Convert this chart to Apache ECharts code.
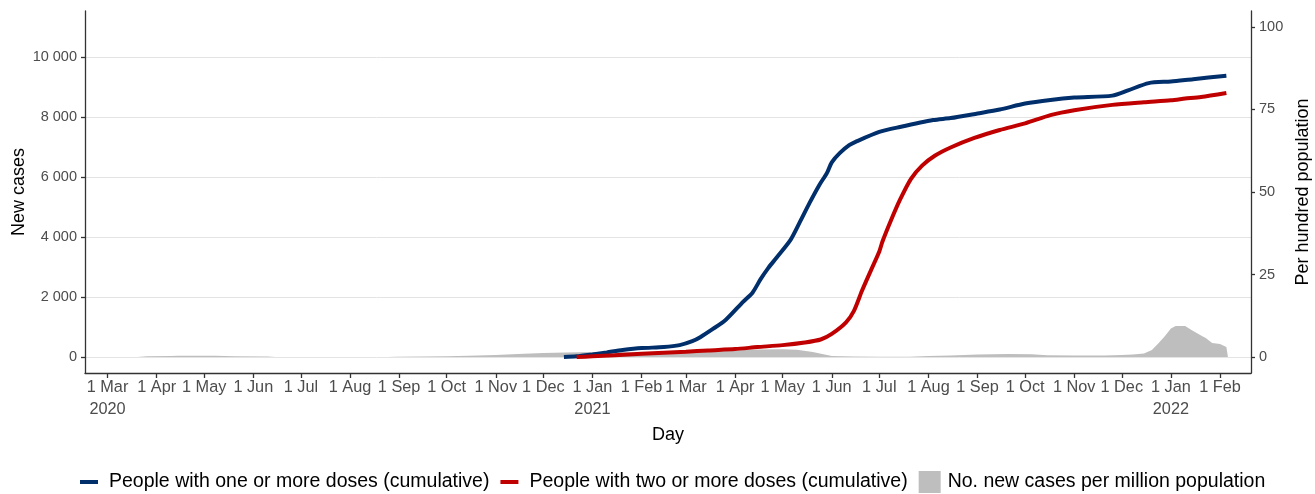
<!DOCTYPE html>
<html>
<head>
<meta charset="utf-8">
<script src="https://cdn.jsdelivr.net/npm/echarts@6/dist/echarts.min.js"></script>
<style>
  html, body { margin: 0; padding: 0; background: #fff; }
  #chart { width: 1315px; height: 494px; }
</style>
</head>
<body>
<div id="chart"></div>
<script>
// dates on the x axis where month ticks sit
const monthTicks = [
  '2020-03-01', '2020-04-01', '2020-05-01', '2020-06-01', '2020-07-01', '2020-08-01',
  '2020-09-01', '2020-10-01', '2020-11-01', '2020-12-01', '2021-01-01', '2021-02-01',
  '2021-03-01', '2021-04-01', '2021-05-01', '2021-06-01', '2021-07-01', '2021-08-01',
  '2021-09-01', '2021-10-01', '2021-11-01', '2021-12-01', '2022-01-01', '2022-02-01',
]
const monthNames = ['Jan', 'Feb', 'Mar', 'Apr', 'May', 'Jun', 'Jul', 'Aug', 'Sep', 'Oct', 'Nov', 'Dec']
const leftTicks = [0, 2000, 4000, 6000, 8000, 10000]
const rightTicks = [0, 25, 50, 75, 100]

// people with one or more doses, per hundred
const oneDoseDates = [
  '2020-12-14', '2020-12-22', '2021-01-01', '2021-01-10', '2021-01-20', '2021-02-01',
  '2021-02-15', '2021-02-25', '2021-03-05', '2021-03-10', '2021-03-18', '2021-03-26',
  '2021-04-06', '2021-04-12', '2021-04-17', '2021-04-22', '2021-04-27', '2021-05-06',
  '2021-05-12', '2021-05-18', '2021-05-24', '2021-05-29', '2021-06-01', '2021-06-06',
  '2021-06-12', '2021-06-16', '2021-07-01', '2021-07-14', '2021-08-04', '2021-08-15',
  '2021-09-01', '2021-09-15', '2021-10-01', '2021-10-17', '2021-11-01', '2021-11-25',
  '2021-12-05', '2021-12-18', '2022-01-01', '2022-01-15', '2022-02-05',
]
const oneDoseValues = [
  0, 0.2, 0.8, 1.4, 2.1, 2.7,
  3.0, 3.6, 4.8, 6.0, 8.5, 11.2,
  16.7, 19.5, 23.5, 27, 30, 35.5,
  41, 46.7, 52, 55.8, 59, 61.8,
  64.2, 65.2, 68.2, 69.7, 71.8, 72.4,
  73.8, 75, 76.8, 77.9, 78.6, 79.2,
  80.8, 83, 83.5, 84.2, 85.2,
]

// people with two or more doses, per hundred
const twoDoseDates = [
  '2020-12-22', '2021-01-01', '2021-01-15', '2021-02-01', '2021-02-15', '2021-03-01',
  '2021-03-15', '2021-04-01', '2021-04-15', '2021-05-01', '2021-05-15', '2021-05-25',
  '2021-06-01', '2021-06-10', '2021-06-15', '2021-06-20', '2021-06-25', '2021-07-01',
  '2021-07-03', '2021-07-08', '2021-07-14', '2021-07-21', '2021-07-28', '2021-08-05',
  '2021-08-15', '2021-08-30', '2021-09-15', '2021-10-01', '2021-10-17', '2021-11-01',
  '2021-11-25', '2021-12-15', '2022-01-01', '2022-01-10', '2022-01-20', '2022-02-05',
]
const twoDoseValues = [
  0, 0.2, 0.5, 1.0, 1.3, 1.6,
  2.0, 2.4, 3.0, 3.6, 4.4, 5.3,
  7, 10.5, 14, 20, 25.5, 32,
  35, 41, 47.6, 54, 58, 61,
  63.5, 66.4, 68.8, 70.8, 73.3, 74.8,
  76.4, 77.2, 77.8, 78.3, 78.8, 80,
]

// new cases per million population
const caseDates = [
  '2020-03-20', '2020-03-26', '2020-04-10', '2020-04-15', '2020-05-01', '2020-05-08',
  '2020-05-20', '2020-06-10', '2020-06-15', '2020-08-25', '2020-08-30', '2020-09-15',
  '2020-10-01', '2020-10-15', '2020-11-01', '2020-11-15', '2020-12-01', '2020-12-15',
  '2021-01-01', '2021-01-15', '2021-02-01', '2021-02-15', '2021-03-01', '2021-03-15',
  '2021-04-01', '2021-04-15', '2021-05-01', '2021-05-10', '2021-05-20', '2021-06-01',
  '2021-06-15', '2021-07-01', '2021-07-20', '2021-08-01', '2021-08-15', '2021-09-01',
  '2021-09-20', '2021-10-05', '2021-10-15', '2021-11-01', '2021-11-20', '2021-12-01',
  '2021-12-08', '2021-12-15', '2021-12-20', '2021-12-24', '2021-12-28', '2022-01-01',
  '2022-01-04', '2022-01-10', '2022-01-14', '2022-01-20', '2022-01-23', '2022-01-27',
  '2022-02-01', '2022-02-05', '2022-02-06',
]
const caseValues = [
  0, 25, 35, 45, 45, 40,
  25, 20, 0, 0, 10, 15,
  25, 45, 70, 100, 130, 150,
  170, 165, 150, 150, 170, 190,
  220, 250, 260, 240, 170, 30,
  20, 10, 10, 30, 50, 80,
  100, 90, 60, 50, 50, 70,
  80, 120, 230, 450, 680, 950,
  1030, 1030, 900, 720, 630, 470,
  430, 330, 330,
]

const BLUE = '#002f6c'
const RED = '#c00000'
const GREY = '#bebebe'
const FONT = '"Liberation Sans", Arial, sans-serif'

const t = (s) => Date.parse(s + 'T00:00:00Z')
const pairs = (dates, vals) => dates.map((d, i) => [t(d), vals[i]])
const spaced = (v) => String(v).replace(/\B(?=(\d{3})+(?!\d))/g, ' ')

const linePath = 'path://M0,0M24,22M0,9L18,9L18,13L0,13Z'
const boxPath = 'path://M0,0M24,22M0,0L22,0L22,22L0,22Z'

const chart = echarts.init(document.getElementById('chart'))

chart.setOption({
  animation: false,
  textStyle: { fontFamily: FONT },
  grid: { left: 85, right: 64, top: 11, bottom: 121, containLabel: false, outerBoundsMode: 'none' },
  legend: {
    left: 80,
    top: 471,
    padding: 0,
    itemWidth: 24,
    itemHeight: 22,
    itemGap: 11,
    textStyle: { color: '#000', fontSize: 19.5, fontFamily: FONT },
    data: [
      { name: 'People with one or more doses (cumulative)', icon: linePath },
      { name: 'People with two or more doses (cumulative)', icon: linePath },
      { name: 'No. new cases per million population', icon: boxPath },
    ],
  },
  xAxis: {
    type: 'value',
    min: Date.parse('2020-02-15T19:00:00Z'),
    max: Date.parse('2022-02-20T13:00:00Z'),
    name: 'Day',
    nameLocation: 'middle',
    nameGap: 39,
    nameTextStyle: { color: '#000', fontSize: 18 },
    axisLine: { show: true, onZero: false, lineStyle: { color: '#333', width: 1.3 } },
    axisTick: { show: true, length: 5, lineStyle: { color: '#333', width: 1.3 }, customValues: monthTicks.map(t) },
    splitLine: { show: false },
    axisLabel: {
      customValues: monthTicks.map(t),
      color: '#4d4d4d',
      fontSize: 16.3,
      lineHeight: 22,
      margin: 4,
      formatter: (v) => {
        const d = new Date(v)
        const s = '1 ' + monthNames[d.getUTCMonth()]
        return d.getUTCMonth() === 2 && d.getUTCFullYear() === 2020 || d.getUTCMonth() === 0
          ? s + '\n' + d.getUTCFullYear() : s
      },
    },
  },
  yAxis: [
    {
      type: 'value',
      min: -533.3,
      max: 11533.3,
      name: 'New cases',
      nameLocation: 'middle',
      nameRotate: 90,
      nameGap: 57,
      nameMoveOverlap: false,
      nameTextStyle: { color: '#000', fontSize: 18 },
      axisLine: { show: true, onZero: false, lineStyle: { color: '#333', width: 1.3 } },
      axisTick: { show: true, length: 4, lineStyle: { color: '#333', width: 1.3 }, customValues: leftTicks },
      splitLine: { show: false },
      axisLabel: { customValues: leftTicks, color: '#4d4d4d', fontSize: 14.5, margin: 8, formatter: spaced },
    },
    {
      type: 'value',
      min: -4.848,
      max: 104.848,
      position: 'right',
      name: 'Per hundred population',
      nameLocation: 'middle',
      nameRotate: 90,
      nameGap: 40,
      nameTextStyle: { color: '#000', fontSize: 18 },
      axisLine: { show: true, onZero: false, lineStyle: { color: '#333', width: 1.3 } },
      axisTick: { show: true, length: 4, lineStyle: { color: '#333', width: 1.3 }, customValues: rightTicks },
      splitLine: { show: false },
      axisLabel: { customValues: rightTicks, color: '#4d4d4d', fontSize: 14.5, margin: 8 },
    },
  ],
  series: [
    {
      name: 'No. new cases per million population',
      type: 'line',
      yAxisIndex: 0,
      color: GREY,
      showSymbol: false,
      symbol: 'none',
      lineStyle: { width: 0 },
      areaStyle: { color: GREY, opacity: 1 },
      data: pairs(caseDates, caseValues),
      markLine: {
        silent: true,
        z: 0,
        symbol: 'none',
        label: { show: false },
        lineStyle: { color: '#e4e4e4', width: 1, type: 'solid' },
        data: leftTicks.map((v) => ({ yAxis: v })),
      },
      z: 1,
    },
    {
      name: 'People with one or more doses (cumulative)',
      type: 'line',
      yAxisIndex: 1,
      color: BLUE,
      symbol: 'none',
      smooth: 0.25,
      lineStyle: { color: BLUE, width: 4 },
      data: pairs(oneDoseDates, oneDoseValues),
      z: 3,
    },
    {
      name: 'People with two or more doses (cumulative)',
      type: 'line',
      yAxisIndex: 1,
      color: RED,
      symbol: 'none',
      smooth: 0.25,
      lineStyle: { color: RED, width: 4 },
      data: pairs(twoDoseDates, twoDoseValues),
      z: 4,
    },
  ],
})

window.addEventListener('resize', () => chart.resize())
</script>
</body>
</html>
